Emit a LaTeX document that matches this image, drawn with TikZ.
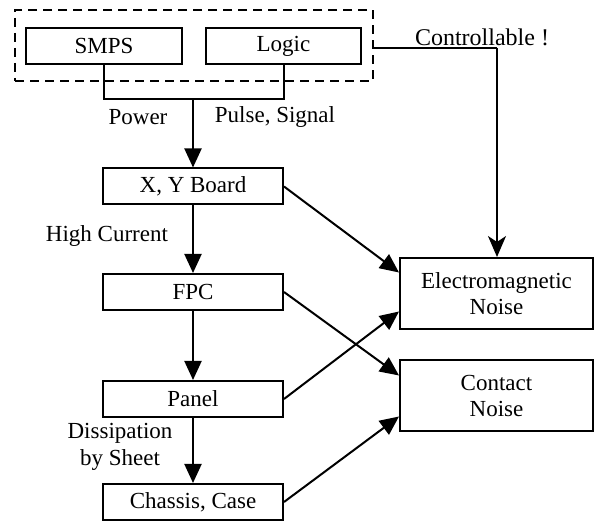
\documentclass[tikz,border=0pt]{standalone}
\usepackage{fontspec}
\setmainfont{Liberation Serif}
\usetikzlibrary{arrows.meta,calc}
\tikzset{
  box/.style={draw, line width=2pt, inner sep=0pt, minimum height=36pt, align=center, font=\fontsize{23}{26}\selectfont},
  colbox/.style={box, minimum width=180pt},
  noisebox/.style={box, minimum width=193pt, minimum height=71pt},
  lbl/.style={inner sep=0pt, align=center, font=\fontsize{23}{27}\selectfont},
  conn/.style={line width=2pt},
  arr/.style={conn, -{Triangle[length=19pt,width=17pt]}},
  sarr/.style={conn, -{Stealth[length=21pt,width=18pt,inset=6pt]}},
  dashbox/.style={draw, line width=2pt, dash pattern=on 9pt off 6pt, inner sep=0pt, minimum width=358pt, minimum height=71pt}
}
\begin{document}
\begin{tikzpicture}[x=1pt,y=1pt]
\useasboundingbox (0,0) rectangle (600,522);
\node[dashbox] (dash) at (194,476.5) {};
\node[box, minimum width=156pt] (smps) at (104,476) {SMPS};
\node[box, minimum width=155pt] (logic) at (283.5,476) {Logic};
\node[colbox] (xy) at (193,335.5) {X, Y Board};
\node[colbox] (fpc) at (193,230) {FPC};
\node[colbox] (panel) at (193,123) {Panel};
\node[colbox] (chassis) at (193,20) {Chassis, Case};
\node[noisebox] (em) at (496.5,228.5) {Electromagnetic\\Noise};
\node[noisebox] (contact) at (496.5,126.5) {Contact\\Noise};
\coordinate (j) at (193,423);
\coordinate (c1) at (497,474);
\node[lbl] (power) at (138,405) {Power};
\node[lbl] (pulse) at (275,405) {Pulse, Signal};
\node[lbl] (hc) at (107,286) {High Current};
\node[lbl] (diss) at (120,75.5) {Dissipation\\by Sheet};
\node[lbl, font=\fontsize{24}{27}\selectfont] (ctrl) at (482,485) {Controllable !};
\draw[conn] (smps.south) |- (j) -| (logic.south);
\draw[arr] (j) -- (xy.north);
\draw[arr] (xy) -- (fpc);
\draw[arr] (fpc) -- (panel);
\draw[arr] (panel) -- (chassis);
\draw[arr] (xy.east) -- ([yshift=21pt]em.west);
\draw[arr] (fpc.east) -- ([yshift=20pt]contact.west);
\draw[arr] (panel.east) -- ([yshift=-18pt]em.west);
\draw[arr] (chassis.east) -- ([yshift=-21pt]contact.west);
\draw[conn] ([yshift=-2.5pt]dash.east) -- (c1);
\draw[sarr] (c1) -- (c1 |- em.north);
\end{tikzpicture}
\end{document}
